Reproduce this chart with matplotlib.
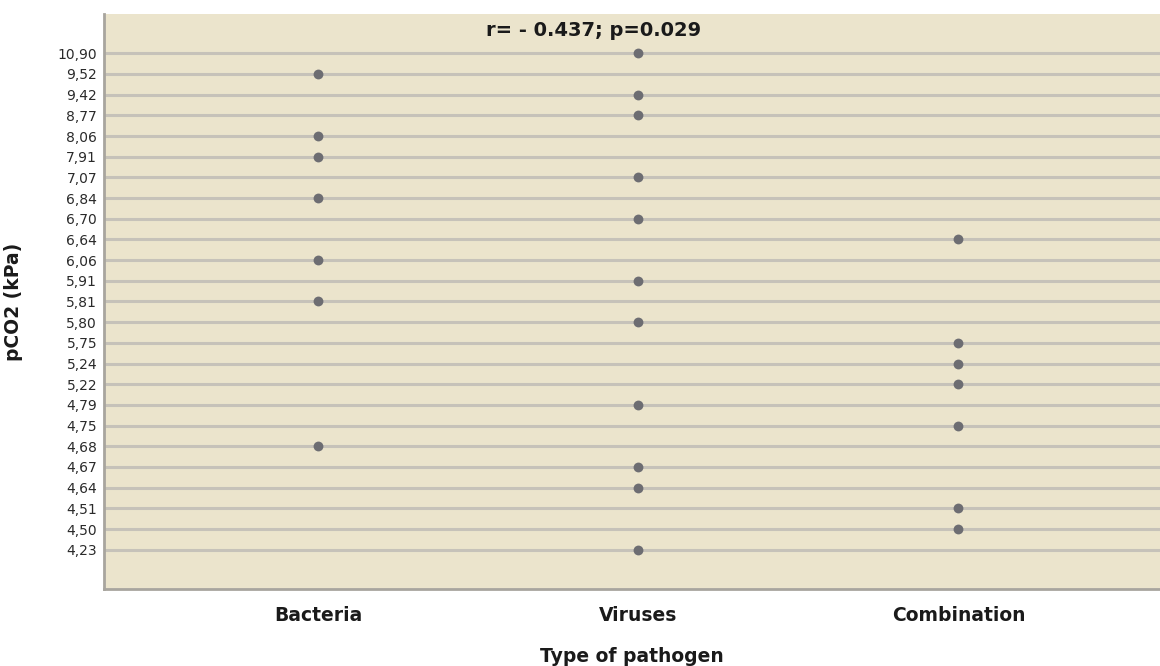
import numpy as np
import matplotlib
matplotlib.use("Agg")
import matplotlib.pyplot as plt

# y categories, bottom to top
pco2_levels = ["4,23", "4,50", "4,51", "4,64", "4,67", "4,68", "4,75", "4,79",
               "5,22", "5,24", "5,75", "5,80", "5,81", "5,91", "6,06", "6,64",
               "6,70", "6,84", "7,07", "7,91", "8,06", "8,77", "9,42", "9,52", "10,90"]
groups = ["Bacteria", "Viruses", "Combination"]

bacteria = ["9,52", "8,06", "7,91", "6,84", "6,06", "5,81", "4,68"]
viruses = ["10,90", "9,42", "8,77", "7,07", "6,70", "5,91", "5,80", "4,79",
           "4,67", "4,64", "4,23"]
combination = ["6,64", "5,75", "5,24", "5,22", "4,75", "4,51", "4,50"]

bg = "#ebe4cc"
grid_c = "#c6c2b9"
dot_c = "#6d6d72"

fig = plt.figure(figsize=(11.6, 6.66), dpi=100)
ax = fig.add_axes([0.0897, 0.1156, 0.9103, 0.8634])
ax.set_facecolor(bg)

for i in range(len(pco2_levels)):
    ax.axhline(i, color=grid_c, linewidth=2.2, zorder=1)

for gi, vals in enumerate([bacteria, viruses, combination]):
    ys = [pco2_levels.index(v) for v in vals]
    ax.scatter([gi] * len(ys), ys, s=50, color=dot_c, zorder=3, linewidths=0)

ax.set_xlim(-0.67, 2.63)
ax.set_ylim(-1.9, len(pco2_levels) - 1 + 1.9)
ax.set_xticks(range(len(groups)))
ax.set_xticklabels(groups, fontsize=13.5, fontweight="bold", color="#1a1a1a")
ax.set_yticks(range(len(pco2_levels)))
ax.set_yticklabels(pco2_levels, fontsize=10, color="#2a2a2a")
ax.tick_params(axis="both", length=0)
ax.tick_params(axis="x", pad=12)
ax.tick_params(axis="y", pad=5)

for s in ["top", "right"]:
    ax.spines[s].set_visible(False)
ax.spines["left"].set_color("#a8a59e")
ax.spines["left"].set_linewidth(2)
ax.spines["bottom"].set_color("#a8a59e")
ax.spines["bottom"].set_linewidth(2)

ax.set_xlabel("Type of pathogen", fontsize=13.5, fontweight="bold", color="#1a1a1a", va="center")
ax.xaxis.set_label_coords(0.5, -0.1165)
ax.set_ylabel("pCO2 (kPa)", fontsize=13.5, fontweight="bold", color="#1a1a1a", va="center")
ax.yaxis.set_label_coords(-0.0855, 0.5)

ax.text(0.86, len(pco2_levels) - 1 + 1.1, "r= - 0.437; p=0.029", ha="center", va="center",
        fontsize=14, fontweight="bold", color="#1a1a1a", zorder=4)

fig.savefig("out.png", dpi=100, facecolor="white")
